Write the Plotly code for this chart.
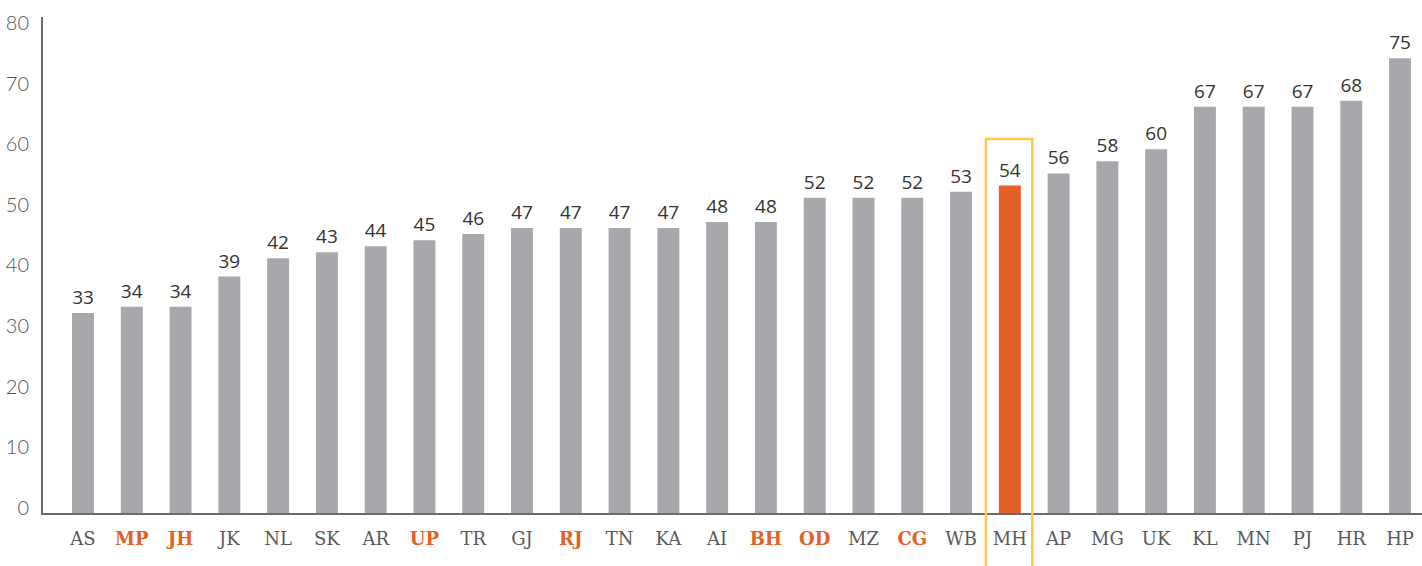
import plotly.graph_objects as go

categories = ["AS", "MP", "JH", "JK", "NL", "SK", "AR", "UP", "TR", "GJ", "RJ", "TN", "KA", "AI",
              "BH", "OD", "MZ", "CG", "WB", "MH", "AP", "MG", "UK", "KL", "MN", "PJ", "HR", "HP"]
values = [33, 34, 34, 39, 42, 43, 44, 45, 46, 47, 47, 47, 47, 48,
          48, 52, 52, 52, 53, 54, 56, 58, 60, 67, 67, 67, 68, 75]
emphasised = ["MP", "JH", "UP", "RJ", "BH", "OD", "CG"]
focus = "MH"
y_ticks = [0, 10, 20, 30, 40, 50, 60, 70, 80]

GREY = "#A7A8AC"
ORANGE = "#E46027"
YELLOW = "#FFC84A"

x_idx = list(range(len(categories)))
bar_colors = [ORANGE if c == focus else GREY for c in categories]
tick_text = [
    f"<b><span style='color:{ORANGE}'>{c}</span></b>" if c in emphasised else c
    for c in categories
]

fig = go.Figure()
fig.add_trace(go.Bar(
    x=x_idx, y=values,
    marker=dict(color=bar_colors, line=dict(width=0)),
    width=0.45,
    text=[str(v) for v in values],
    textposition="outside",
    textfont=dict(family="Open Sans", size=19, color="#333333"),
    cliponaxis=False,
    hoverinfo="skip",
))

fi = categories.index(focus)
y_top = 81.8
fig.add_shape(
    type="rect", xref="x", yref="paper",
    x0=fi - 0.49, x1=fi + 0.46,
    y0=-0.5, y1=61.7 / y_top,
    line=dict(color=YELLOW, width=2.5),
    fillcolor="rgba(0,0,0,0)",
    layer="above",
)

fig.update_layout(
    width=1422, height=566,
    margin=dict(l=43, r=0, t=17, b=53),
    paper_bgcolor="white", plot_bgcolor="white",
    showlegend=False,
    xaxis=dict(
        range=[-0.82, 27.45], automargin=False,
        tickmode="array", tickvals=x_idx, ticktext=tick_text,
        tickfont=dict(family="DejaVu Serif", size=18, color="#5a5a5a", weight=300),
        showgrid=False, zeroline=False,
        showline=True, linecolor="#6b6b6b", linewidth=2,
        ticks="", ticklabelstandoff=8,
    ),
    yaxis=dict(
        range=[0, y_top], automargin=False,
        tickmode="array", tickvals=y_ticks,
        tickfont=dict(family="Lato", size=20, color="#555555", weight=300),
        showgrid=False, zeroline=False,
        showline=True, linecolor="#6b6b6b", linewidth=2,
        ticks="", ticklabelstandoff=8, ticklabelshift=-5,
    ),
)

fig.write_html(
    "out.html",
    config={"displayModeBar": False},
    post_script="document.body.style.margin='0';document.body.style.overflow='hidden';",
)
